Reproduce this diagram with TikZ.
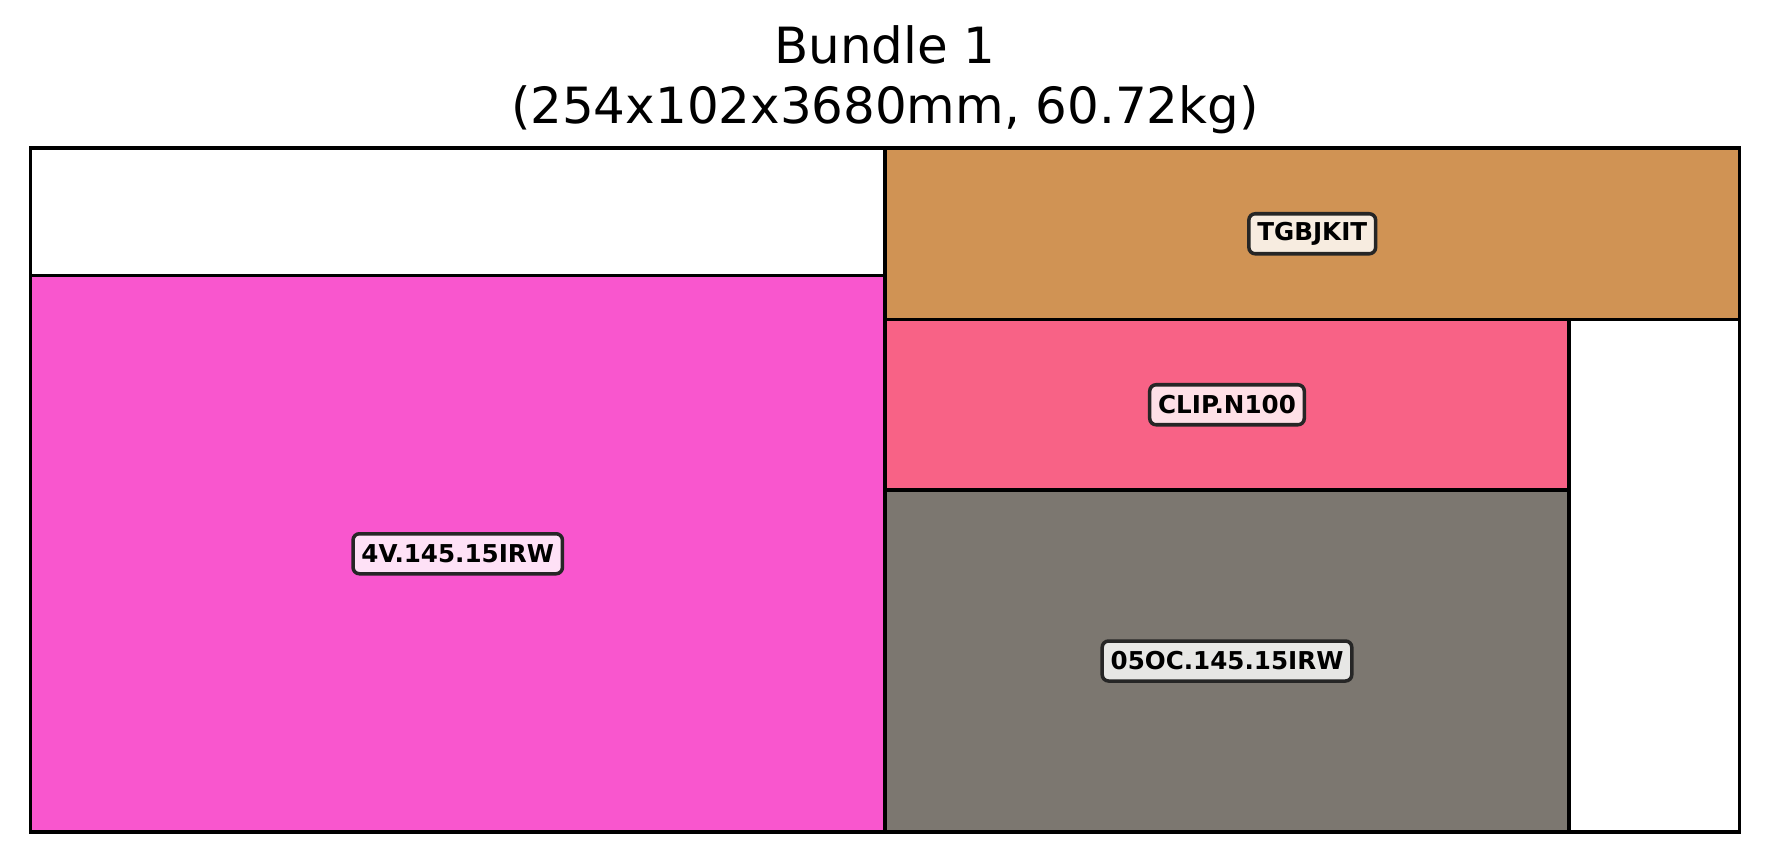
\documentclass[tikz,border=0pt]{standalone}
\usepackage{fontspec}
\setmainfont{DejaVu Sans}
\usepackage{xcolor}
\usetikzlibrary{positioning}
\definecolor{partpink}{RGB}{249,86,206}
\definecolor{parttan}{RGB}{208,147,84}
\definecolor{partrose}{RGB}{248,98,134}
\definecolor{partgrey}{RGB}{124,119,112}
\tikzset{
  part/.style={draw=black, line width=0.95pt},
  tag/.style={draw=black!85, line width=1pt, rounded corners=1.8pt,
    font=\fontsize{7}{8}\selectfont\bfseries, inner xsep=2.4pt, inner ysep=0pt,
    minimum height=4mm},
  every picture/.style={line cap=butt, line join=miter}
}

\begin{document}
\begin{tikzpicture}[x=0.1mm, y=-0.1mm]
  \useasboundingbox (0,0) rectangle (1770,862);
  % bundle outline and parts
  \coordinate (nw) at (30.5,148);
  \coordinate (se) at (1739.5,832);
  \draw[part, fill=white] (nw) rectangle (se);
  \draw[part, fill=partpink] (30.5,275.5) rectangle (885,832);
  \draw[part, fill=parttan] (885,148) rectangle (1739.5,319.5);
  \draw[part, fill=partrose] (885,319.5) rectangle (1569,490);
  \draw[part, fill=partgrey] (885,490) rectangle (1569,832);
  % labels
  \node[tag, fill=partpink!18!white] (fourv) at (457.75,553.75) {4V.145.15IRW};
  \node[tag, fill=parttan!18!white] (kit) at (1312.25,233.75) {TGBJKIT};
  \node[tag, fill=partrose!20!white] (clip) at (1227,404.75) {CLIP.N100};
  \node[tag, fill=partgrey!18!white] (oc) at (1227,661) {05OC.145.15IRW};
  % title
  \node[font=\fontsize{14.2}{17}\selectfont, align=center] (title) at (885,79.5)
    {Bundle 1\\(254x102x3680mm, 60.72kg)};
\end{tikzpicture}
\end{document}
